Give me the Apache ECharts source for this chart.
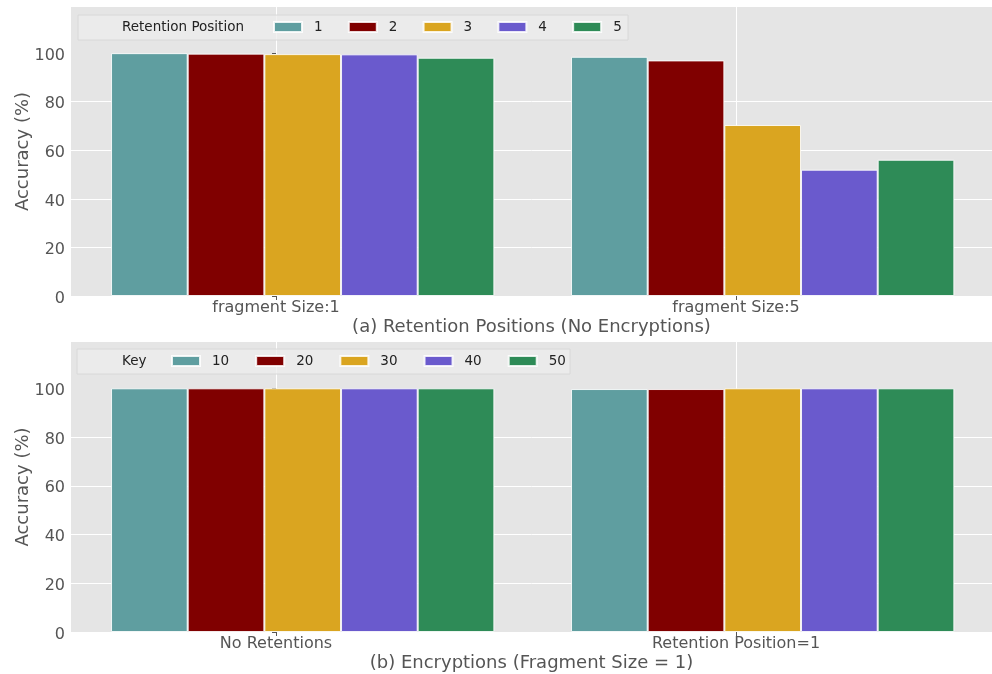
<!DOCTYPE html>
<html>
<head>
<meta charset="utf-8">
<script src="https://cdn.jsdelivr.net/npm/echarts@6/dist/echarts.min.js"></script>
<style>
  html, body { margin: 0; padding: 0; background: #ffffff; }
  #chart { width: 992px; height: 674px; }
</style>
</head>
<body>
<div id="chart"></div>
<script>
// Panel (a): accuracy for each retention position, grouped by fragment size
const fragmentCategories = ['fragment Size:1', 'fragment Size:5'];
const retentionPositions = ['1', '2', '3', '4', '5'];
const retention1 = [100.0, 98.5];
const retention2 = [99.8, 97.0];
const retention3 = [99.6, 70.4];
const retention4 = [99.5, 52.0];
const retention5 = [98.1, 56.1];

// Panel (b): accuracy for each key, fragment size fixed at 1
const encryptionCategories = ['No Retentions', 'Retention Position=1'];
const keyNames = ['10', '20', '30', '40', '50'];
const key10 = [100.0, 99.7];
const key20 = [100.0, 99.7];
const key30 = [100.0, 100.0];
const key40 = [100.0, 100.0];
const key50 = [100.0, 100.0];

const yTicks = [0, 20, 40, 60, 80, 100];
const palette = ['#5F9EA0', '#800000', '#DAA520', '#6A5ACD', '#2E8B57'];

// Shared layout: group tick positions sit at x = 0 and x = 1
const FONT = 'DejaVu Sans';
const TEXT = '#555555';
const X_MIN = -0.4457, X_MAX = 1.5565;
const BAR_W = 1 / 6, BAR_SHIFT = 0.058;
const GRID_LEFT = 71, GRID_W = 921;
const barPx = GRID_W / (X_MAX - X_MIN) * BAR_W;

const panels = [
  {
    top: 7, height: 289,
    cats: fragmentCategories, names: retentionPositions,
    values: [retention1, retention2, retention3, retention4, retention5],
    legendTitle: 'Retention Position',
    xName: '(a) Retention Positions (No Encryptions)',
    box: { x: 78, y: 15, w: 550, h: 25 },
    legendLeft: 273, legendGap: 25.2, rowY: 27
  },
  {
    top: 342, height: 290,
    cats: encryptionCategories, names: keyNames,
    values: [key10, key20, key30, key40, key50],
    legendTitle: 'Key',
    xName: '(b) Encryptions (Fragment Size = 1)',
    box: { x: 77, y: 349, w: 493, h: 25 },
    legendLeft: 171, legendGap: 26, rowY: 361
  }
];

const grid = [], xAxis = [], yAxis = [], series = [], legend = [], graphic = [];

panels.forEach((p, k) => {
  grid.push({
    left: GRID_LEFT, right: 0, top: p.top, height: p.height,
    show: true, backgroundColor: '#E5E5E5', borderWidth: 0
  });
  xAxis.push({
    gridIndex: k, type: 'value', min: X_MIN, max: X_MAX,
    axisLine: { show: false },
    axisTick: { show: true, length: 4, customValues: [0, 1], lineStyle: { color: TEXT } },
    axisLabel: {
      customValues: [0, 1], margin: 4, color: TEXT, fontSize: 16, fontFamily: FONT,
      formatter: v => p.cats[Math.round(v)]
    },
    splitLine: { show: false },
    name: p.xName, nameLocation: 'middle', nameGap: 22, nameMoveOverlap: false,
    nameTextStyle: { color: TEXT, fontSize: 18, fontFamily: FONT }
  });
  yAxis.push({
    gridIndex: k, type: 'value', min: 0, max: 119, interval: 20,
    axisLine: { show: false },
    axisTick: { show: true, length: 4, customValues: yTicks, lineStyle: { color: TEXT } },
    axisLabel: {
      customValues: yTicks, margin: 6,
      formatter: v => '{v|' + v + '}',
      rich: { v: { color: TEXT, fontSize: 16, fontFamily: FONT, padding: [5, 0, 0, 0] } }
    },
    splitLine: { show: true, showMaxLine: false, lineStyle: { color: '#ffffff', width: 1 } },
    name: 'Accuracy (%)', nameLocation: 'middle', nameGap: 39, nameMoveOverlap: false,
    nameTextStyle: { color: TEXT, fontSize: 18, fontFamily: FONT }
  });
  p.names.forEach((name, i) => {
    const s = {
      name, type: 'bar', xAxisIndex: k, yAxisIndex: k,
      barWidth: barPx, barGap: '-100%',
      itemStyle: { color: palette[i], borderColor: 'rgba(255,255,255,0.85)', borderWidth: 1 },
      data: p.values[i].map((v, g) => [g + BAR_SHIFT + (i - 2) * BAR_W, v])
    };
    if (i === 0) {
      // vertical grid lines at the group ticks, kept behind the bars
      s.markLine = {
        silent: true, symbol: 'none', z: 1, animation: false,
        label: { show: false },
        lineStyle: { color: '#ffffff', width: 1, type: 'solid' },
        data: [{ xAxis: 0 }, { xAxis: 1 }]
      };
    }
    series.push(s);
  });
  legend.push({
    data: p.names, orient: 'horizontal',
    left: p.legendLeft, top: p.rowY - 7, padding: 0,
    itemWidth: 28, itemHeight: 10, itemGap: p.legendGap,
    icon: 'rect', selectedMode: false, z: 5,
    textStyle: { color: '#222222', fontSize: 13.5, fontFamily: FONT, lineHeight: 14, padding: [0, 0, 0, 7] }
  });
  graphic.push({
    type: 'rect', z: 3, silent: true,
    shape: { x: p.box.x, y: p.box.y, width: p.box.w, height: p.box.h },
    style: { fill: 'rgba(236,236,236,0.75)', stroke: '#d8d8d8', lineWidth: 1 }
  });
  graphic.push({
    type: 'text', z: 4, silent: true, x: 122, y: p.rowY,
    style: { text: p.legendTitle, fill: '#222222', font: '13.5px "DejaVu Sans"', verticalAlign: 'middle', align: 'left' }
  });
});

const chart = echarts.init(document.getElementById('chart'), null, { renderer: 'canvas' });
chart.setOption({
  animation: false,
  textStyle: { fontFamily: FONT },
  grid, xAxis, yAxis, series, legend, graphic
});
</script>
</body>
</html>
